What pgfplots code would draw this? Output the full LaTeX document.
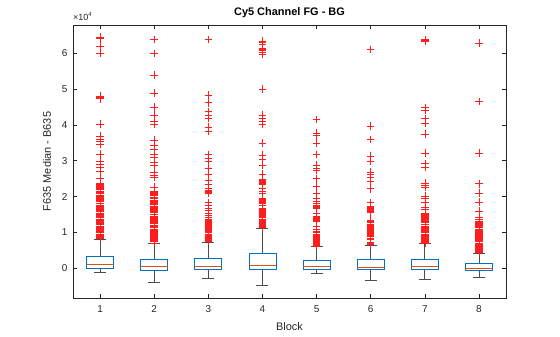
\documentclass[border=0pt]{standalone}
\usepackage{fontspec}
\setmainfont{Liberation Sans}
\usepackage{pgfplots}
\pgfplotsset{compat=1.18}
\usepgfplotslibrary{statistics}
\definecolor{mblue}{RGB}{0,114,189}
\definecolor{morange}{RGB}{217,83,25}
\definecolor{axgray}{RGB}{38,38,38}
\definecolor{outred}{RGB}{255,30,30}
\pgfplotsset{
  mbox/.style={mblue, line width=0.7bp},
  mout/.style={only marks, mark=+, mark size=3.8bp, draw=outred, color=outred,
    mark options={draw=outred, line width=0.6bp, solid}},
}
\begin{document}
\begin{tikzpicture}
\path[use as bounding box] (0,0) rectangle (560bp,337bp);
\begin{axis}[
  at={(73bp,39bp)}, anchor=south west,
  scale only axis, width=433bp, height=273bp,
  xmin=0.5, xmax=8.5, ymin=-0.83, ymax=6.79,
  xtick={1,...,8}, ytick={0,...,6},
  tick align=inside, tick pos=both, major tick length=4bp,
  axis line style={axgray, line width=0.6bp},
  tick style={axgray, line width=0.6bp},
  ticklabel style={font=\fontsize{10}{12}\selectfont, text=axgray},
  xticklabel style={yshift=-4bp},
  yticklabel style={xshift=-2bp},
  /pgf/number format/assume math mode=true,
  title={\bfseries Cy5 Channel FG - BG},
  title style={font=\fontsize{11}{13}\selectfont, text=black, yshift=-2bp},
  xlabel={Block}, ylabel={F635 Median - B635},
  label style={font=\fontsize{11}{13}\selectfont, text=axgray},
  xlabel style={yshift=-3bp},
  ylabel style={yshift=4bp},
  boxplot/draw direction=y,
  boxplot/box extend=0.5,
  boxplot/whisker extend=0.22,
  boxplot/every median/.style={draw=morange, line width=0.8bp},
  boxplot/every whisker/.style={draw=black!70, line width=0.8bp},
  clip=false,
]
% boxes
\addplot[mbox, boxplot prepared={draw position=1, lower whisker=-0.12, lower quartile=0.0, median=0.12, upper quartile=0.34, upper whisker=0.81}] coordinates {};
\addplot[mbox, boxplot prepared={draw position=2, lower whisker=-0.40, lower quartile=-0.05, median=0.04, upper quartile=0.25, upper whisker=0.68}] coordinates {};
\addplot[mbox, boxplot prepared={draw position=3, lower whisker=-0.27, lower quartile=-0.03, median=0.04, upper quartile=0.28, upper whisker=0.73}] coordinates {};
\addplot[mbox, boxplot prepared={draw position=4, lower whisker=-0.49, lower quartile=-0.03, median=0.09, upper quartile=0.42, upper whisker=1.10}] coordinates {};
\addplot[mbox, boxplot prepared={draw position=5, lower whisker=-0.15, lower quartile=-0.03, median=0.06, upper quartile=0.23, upper whisker=0.61}] coordinates {};
\addplot[mbox, boxplot prepared={draw position=6, lower whisker=-0.34, lower quartile=-0.03, median=0.03, upper quartile=0.25, upper whisker=0.65}] coordinates {};
\addplot[mbox, boxplot prepared={draw position=7, lower whisker=-0.31, lower quartile=-0.03, median=0.05, upper quartile=0.25, upper whisker=0.68}] coordinates {};
\addplot[mbox, boxplot prepared={draw position=8, lower whisker=-0.26, lower quartile=-0.06, median=0.00, upper quartile=0.14, upper whisker=0.41}] coordinates {};
% outliers
\addplot[mout] table[row sep=\\, x expr=1, y index=0]{v\\ 6.45\\ 6.43\\ 6.20\\ 6.00\\ 4.80\\ 4.76\\ 4.73\\ 4.02\\ 3.69\\ 3.61\\ 3.54\\ 3.46\\ 3.19\\ 2.98\\ 2.90\\ 2.83\\ 2.71\\ 2.50\\
 2.37\\ 2.34\\ 2.31\\ 2.28\\ 2.25\\ 2.22\\ 2.19\\ 2.16\\ 2.13\\ 2.10\\ 2.04\\ 2.01\\ 1.98\\ 1.95\\ 1.92\\ 1.89\\ 1.86\\ 1.80\\ 1.77\\ 1.74\\ 1.71\\ 1.68\\ 1.65\\ 1.62\\ 1.59\\ 1.53\\ 1.50\\ 1.47\\ 1.44\\ 1.41\\ 1.38\\ 1.35\\ 1.32\\ 1.29\\ 1.26\\ 1.23\\ 1.17\\ 1.14\\ 1.11\\ 1.08\\ 1.05\\ 1.02\\ 0.99\\ 0.96\\ 0.93\\ 0.90\\ 0.87\\ 0.84\\};
\addplot[mout] table[row sep=\\, x expr=2, y index=0]{v\\ 6.39\\ 5.99\\ 5.39\\ 4.89\\ 4.50\\ 4.28\\ 4.10\\ 4.01\\ 3.58\\ 3.43\\ 3.31\\ 3.19\\ 3.09\\ 2.96\\ 2.88\\ 2.69\\ 2.60\\ 2.54\\ 2.26\\
 2.15\\ 2.12\\ 2.09\\ 2.06\\ 2.03\\ 1.97\\ 1.94\\ 1.91\\ 1.88\\ 1.85\\ 1.82\\ 1.79\\ 1.73\\ 1.70\\ 1.67\\ 1.64\\ 1.61\\ 1.58\\ 1.55\\ 1.52\\ 1.46\\ 1.43\\ 1.40\\ 1.37\\ 1.34\\ 1.31\\ 1.28\\ 1.25\\ 1.19\\ 1.16\\ 1.13\\ 1.10\\ 1.07\\ 1.04\\ 1.01\\ 0.98\\ 0.95\\ 0.92\\ 0.89\\ 0.86\\ 0.83\\ 0.80\\ 0.77\\ 0.74\\ 0.71\\};
\addplot[mout] table[row sep=\\, x expr=3, y index=0]{v\\ 6.39\\ 4.83\\ 4.62\\ 4.38\\ 4.27\\ 4.18\\ 3.94\\ 3.83\\ 3.17\\ 3.08\\ 2.99\\ 2.80\\ 2.63\\ 2.61\\ 2.46\\ 2.34\\ 2.23\\ 2.17\\ 2.14\\ 2.11\\ 2.09\\ 1.84\\ 1.75\\ 1.68\\ 1.62\\ 1.54\\ 1.47\\
 1.41\\ 1.38\\ 1.35\\ 1.32\\ 1.29\\ 1.26\\ 1.23\\ 1.20\\ 1.17\\ 1.14\\ 1.11\\ 1.08\\ 1.05\\ 1.02\\ 0.99\\ 0.96\\ 0.93\\ 0.90\\ 0.87\\ 0.84\\ 0.81\\ 0.78\\ 0.76\\};
\addplot[mout] table[row sep=\\, x expr=4, y index=0]{v\\ 6.34\\ 6.30\\ 6.25\\ 6.15\\ 6.11\\ 6.08\\ 6.04\\ 5.97\\ 5.00\\ 4.28\\ 4.18\\ 4.09\\ 4.01\\ 3.49\\ 3.16\\ 3.04\\ 2.88\\ 2.63\\
 2.48\\ 2.45\\ 2.42\\ 2.39\\ 2.36\\ 2.34\\ 2.23\\ 2.15\\ 2.09\\ 1.96\\ 1.93\\ 1.90\\ 1.87\\ 1.84\\ 1.80\\ 1.77\\ 1.68\\ 1.65\\ 1.62\\ 1.59\\ 1.56\\ 1.54\\ 1.50\\ 1.47\\ 1.44\\ 1.41\\ 1.38\\ 1.35\\ 1.32\\ 1.29\\ 1.26\\ 1.23\\ 1.20\\ 1.17\\ 1.14\\ 1.13\\};
\addplot[mout] table[row sep=\\, x expr=5, y index=0]{v\\ 4.15\\ 3.78\\ 3.72\\ 3.50\\ 3.18\\ 2.88\\ 2.80\\ 2.73\\ 2.50\\ 2.29\\ 2.08\\ 1.94\\ 1.87\\ 1.81\\ 1.76\\ 1.73\\ 1.70\\ 1.66\\ 1.53\\ 1.46\\ 1.43\\ 1.40\\ 1.37\\ 1.34\\ 1.31\\ 1.17\\ 1.10\\
 1.02\\ 0.99\\ 0.96\\ 0.93\\ 0.90\\ 0.87\\ 0.84\\ 0.81\\ 0.78\\ 0.75\\ 0.72\\ 0.69\\ 0.66\\ 0.63\\ 0.62\\};
\addplot[mout] table[row sep=\\, x expr=6, y index=0]{v\\ 6.11\\ 3.97\\ 3.59\\ 3.13\\ 2.99\\ 2.69\\ 2.62\\ 2.54\\ 2.43\\ 2.22\\ 1.83\\ 1.73\\ 1.70\\ 1.67\\ 1.64\\ 1.61\\ 1.58\\ 1.55\\
 1.33\\ 1.30\\ 1.27\\ 1.24\\ 1.21\\ 1.18\\ 1.15\\ 1.12\\ 1.09\\ 1.06\\ 1.03\\ 1.00\\ 0.97\\ 0.94\\ 0.91\\ 0.88\\ 0.85\\ 0.82\\ 0.73\\ 0.70\\ 0.67\\};
\addplot[mout] table[row sep=\\, x expr=7, y index=0]{v\\ 6.39\\ 6.36\\ 6.34\\ 4.48\\ 4.41\\ 4.18\\ 4.06\\ 3.75\\ 3.21\\ 2.92\\ 2.83\\ 2.38\\ 2.32\\ 2.25\\ 2.01\\ 1.94\\ 1.83\\ 1.70\\ 1.64\\
 1.54\\ 1.51\\ 1.48\\ 1.45\\ 1.42\\ 1.39\\ 1.36\\ 1.33\\ 1.30\\ 1.27\\ 1.24\\ 1.22\\ 1.17\\ 1.14\\ 1.11\\ 1.08\\ 1.05\\ 1.02\\ 0.99\\ 0.96\\ 0.93\\ 0.90\\ 0.87\\ 0.84\\ 0.81\\ 0.78\\ 0.75\\ 0.72\\ 0.70\\};
\addplot[mout] table[row sep=\\, x expr=8, y index=0]{v\\ 6.29\\ 4.65\\ 3.22\\ 2.36\\ 2.10\\ 1.85\\ 1.59\\ 1.43\\ 1.36\\
 1.31\\ 1.28\\ 1.25\\ 1.22\\ 1.19\\ 1.16\\ 1.13\\ 1.10\\ 1.07\\ 1.04\\ 1.01\\ 0.98\\ 0.95\\ 0.92\\ 0.89\\ 0.86\\ 0.83\\ 0.80\\ 0.77\\ 0.74\\ 0.71\\ 0.68\\ 0.65\\ 0.62\\ 0.59\\ 0.56\\ 0.53\\ 0.50\\ 0.47\\ 0.44\\};
\node[anchor=south west, inner sep=0pt, font=\fontsize{9}{10}\selectfont, text=axgray] at (rel axis cs:0,1) [yshift=4bp] {×10\textsuperscript{4}};
\end{axis}
\end{tikzpicture}
\end{document}
